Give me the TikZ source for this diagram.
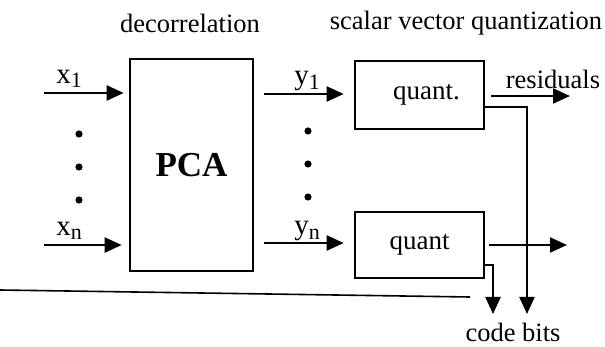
\documentclass[tikz,border=0pt]{standalone}
\usepackage{fontspec}
\setmainfont{Liberation Serif}
\usetikzlibrary{arrows.meta}
\newcommand{\subsc}[1]{\raisebox{-0.35ex}{\fontsize{11}{12}\selectfont #1}}
\begin{document}
\begin{tikzpicture}[x=0.5pt,y=-0.5pt,
  lab/.style={font=\fontsize{13.25}{16}\selectfont, inner sep=0pt},
  var/.style={font=\fontsize{14.5}{16}\selectfont, inner sep=0pt},
  blk/.style={draw, line width=1.3pt, inner sep=0pt, font=\fontsize{13.5}{16}\selectfont},
  arr/.style={line width=1.1pt, -{Triangle[length=8.5pt,width=7.5pt]}},
  dot/.style={circle, fill, inner sep=0pt, minimum size=3.6pt}]
\useasboundingbox (0,0) rectangle (605,347);
% blocks
\node[blk, minimum width=61.5pt, minimum height=106pt, font=\fontsize{17.5}{20}\selectfont\bfseries] (pca) at (191.5,165) {PCA};
\node[blk, minimum width=64.5pt, minimum height=34pt] (q1) at (419.5,95) {\hspace{7pt}quant.};
\node[blk, minimum width=64.5pt, minimum height=33pt] (qn) at (419.5,245) {quant};
% headings
\node[lab] (hd) at (190,23) {decorrelation};
\node[lab] (hq) at (466,23) {scalar vector quantization};
% free ends
\coordinate (x1) at (44,93);
\coordinate (xn) at (44,245);
\coordinate (row1) at (0,94);
\coordinate (rown) at (0,243);
\coordinate (res) at (570,96);
\coordinate (outn) at (567,245);
\coordinate (t1) at (527,314);
\coordinate (t2) at (493,314);
% input arrows
\draw[arr, shorten >=2.5pt] (x1) -- (x1 -| pca.west);
\draw[arr, shorten >=3.5pt] (xn) -- (xn -| pca.west);
\node[var] (lx1) at (69,79) {x\subsc{1}};
\node[var] (lxn) at (69,231) {x\subsc{n}};
% PCA outputs
\draw[arr, shorten <=5pt, shorten >=5pt] (pca.east |- row1) -- (q1.west |- row1);
\draw[arr, shorten <=5pt, shorten >=5pt] (pca.east |- rown) -- (qn.west |- rown);
\node[var] (ly1) at (307,81) {y\subsc{1}};
\node[var] (lyn) at (307,231) {y\subsc{n}};
% dots
\node[dot] (d1) at (79,134) {};
\node[dot] (d2) at (79,167) {};
\node[dot] (d3) at (79,200) {};
\node[dot] (e1) at (308,131) {};
\node[dot] (e2) at (308,164) {};
\node[dot] (e3) at (308,197) {};
% outputs
\draw[arr, shorten <=3pt] (q1.east |- res) -- (res);
\node[lab] (lres) at (553,79) {residuals};
\draw[arr, shorten <=2pt] (qn.east |- outn) -- (outn);
\draw[arr] ([yshift=-6pt]q1.east) -| (t1);
\draw[arr] ([yshift=-10pt]qn.east) -| (t2);
\node[lab] (lcb) at (513,332) {code bits};
% rule
\draw[line width=0.8pt] (0,290) -- (470,297);
\end{tikzpicture}
\end{document}
